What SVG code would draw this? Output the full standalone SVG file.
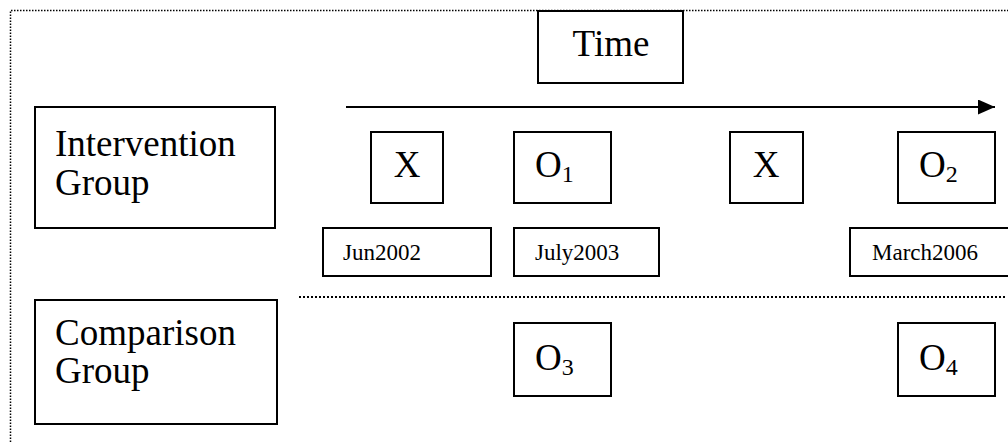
<svg xmlns="http://www.w3.org/2000/svg" width="1008" height="443" viewBox="0 0 1008 443">
<style>
.box{fill:#fff;stroke:#000;stroke-width:2}
.t{font-family:"Liberation Serif","Times New Roman",serif;fill:#000}
.big{font-size:37px}
.sm{font-size:23px}
.sub{font-size:24px}
.dot{fill:none;stroke:#000;stroke-width:2;stroke-dasharray:2 2}
.dotb{fill:none;stroke:#000;stroke-width:1.5;stroke-dasharray:1.5 1.5}
</style>
<defs>
<marker id="ah" markerWidth="17" markerHeight="15" refX="17" refY="7.5" orient="auto" markerUnits="userSpaceOnUse">
<path d="M0,0 L17,7.5 L0,15 z" fill="#000"/>
</marker>
</defs>
<rect width="1008" height="443" fill="#fff"/>
<path class="dotb" d="M10.5,460 L10.5,10.5 L1010,10.5"/>
<g id="connectors">
<line x1="346" y1="107" x2="995" y2="107" stroke="#000" stroke-width="2.2" marker-end="url(#ah)"/>
<line x1="299" y1="297" x2="1006" y2="297" class="dot"/>
</g>
<g id="time"><rect class="box" x="538" y="11" width="145" height="72"/><text class="t big" x="611" y="56" text-anchor="middle">Time</text></g>
<g id="intervention"><rect class="box" x="35" y="107" width="240" height="121"/><text class="t big" x="55" y="156">Intervention</text><text class="t big" x="55" y="195">Group</text></g>
<g id="comparison"><rect class="box" x="35" y="300" width="242" height="124"/><text class="t big" x="55" y="345">Comparison</text><text class="t big" x="55" y="383">Group</text></g>
<g id="x1"><rect class="box" x="371" y="132" width="72" height="71"/><text class="t big" x="407" y="177" text-anchor="middle">X</text></g>
<g id="o1"><rect class="box" x="514" y="132" width="97" height="71"/><text class="t big" x="535" y="177">O<tspan class="sub" dy="5">1</tspan></text></g>
<g id="x2"><rect class="box" x="730" y="132" width="73" height="71"/><text class="t big" x="766" y="177" text-anchor="middle">X</text></g>
<g id="o2"><rect class="box" x="898" y="132" width="97" height="71"/><text class="t big" x="919" y="177">O<tspan class="sub" dy="5">2</tspan></text></g>
<g id="jun2002"><rect class="box" x="323" y="228" width="168" height="48"/><text class="t sm" x="343" y="260">Jun2002</text></g>
<g id="july2003"><rect class="box" x="514" y="228" width="145" height="48"/><text class="t sm" x="535" y="260">July2003</text></g>
<g id="march2006"><rect class="box" x="850" y="228" width="170" height="48"/><text class="t sm" x="872" y="260">March2006</text></g>
<g id="o3"><rect class="box" x="514" y="323" width="97" height="73"/><text class="t big" x="535" y="370">O<tspan class="sub" dy="5">3</tspan></text></g>
<g id="o4"><rect class="box" x="898" y="323" width="97" height="73"/><text class="t big" x="919" y="370">O<tspan class="sub" dy="5">4</tspan></text></g>
</svg>
